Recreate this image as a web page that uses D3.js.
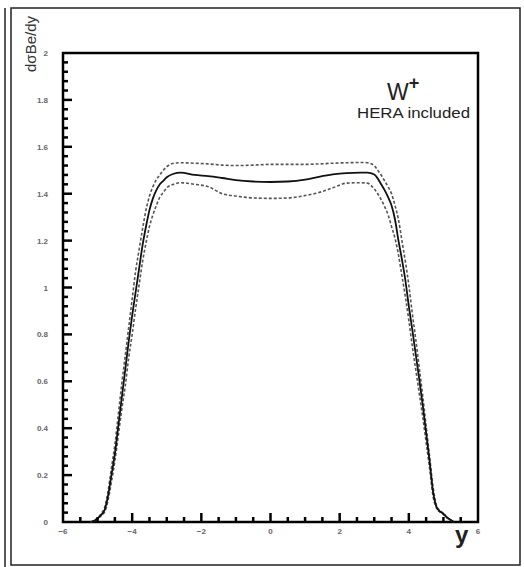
<!DOCTYPE html>
<html>
<head>
<meta charset="utf-8">
<script src="https://cdn.jsdelivr.net/npm/d3@7"></script>
<style>
  body { margin: 0; background: #fff; }
  svg { display: block; font-family: "Liberation Sans", Arial, sans-serif; }
</style>
</head>
<body>
<div id="chart"></div>
<script>
// rapidity grid
const yGrid = [-5.2, -5.1, -5.0, -4.9, -4.8, -4.7, -4.6, -4.5, -4.4, -4.3, -4.2, -4.1, -4.0, -3.9, -3.8, -3.7, -3.6, -3.5, -3.4, -3.3, -3.2, -3.1, -3.0, -2.8, -2.6, -2.2, -1.8, -1.4, -1.0, -0.5, 0,
  0.5, 1.0, 1.4, 1.8, 2.2, 2.6, 2.8, 3.0, 3.1, 3.2, 3.3, 3.4, 3.5, 3.6, 3.7, 3.8, 3.9, 4.0, 4.1, 4.2, 4.3, 4.4, 4.5, 4.6, 4.7, 4.8, 4.9, 5.0, 5.1, 5.2, 5.3];

// central prediction
const central = [0, 0.005, 0.015, 0.03, 0.05, 0.11, 0.20, 0.29, 0.41, 0.53, 0.65, 0.77, 0.88, 0.98, 1.08, 1.18, 1.26, 1.33, 1.38, 1.415, 1.44, 1.455, 1.47, 1.485, 1.49, 1.48, 1.475, 1.467, 1.458, 1.452, 1.45,
  1.452, 1.46, 1.472, 1.482, 1.488, 1.49, 1.49, 1.482, 1.465, 1.44, 1.415, 1.385, 1.35, 1.29, 1.20, 1.12, 1.03, 0.92, 0.82, 0.715, 0.61, 0.50, 0.38, 0.26, 0.13, 0.065, 0.045, 0.035, 0.02, 0.01, 0];

// upper error band
const upper = [0, 0.006, 0.017, 0.035, 0.06, 0.13, 0.23, 0.33, 0.46, 0.59, 0.71, 0.83, 0.95, 1.07, 1.16, 1.25, 1.33, 1.39, 1.43, 1.46, 1.48, 1.50, 1.515, 1.53, 1.532, 1.53, 1.527, 1.522, 1.52, 1.522, 1.525,
  1.525, 1.525, 1.527, 1.53, 1.532, 1.533, 1.532, 1.52, 1.50, 1.48, 1.455, 1.43, 1.40, 1.35, 1.29, 1.20, 1.11, 1.01, 0.89, 0.78, 0.66, 0.54, 0.41, 0.28, 0.15, 0.07, 0.048, 0.037, 0.021, 0.01, 0];

// lower error band
const lower = [0, 0.004, 0.013, 0.026, 0.042, 0.09, 0.17, 0.26, 0.37, 0.48, 0.58, 0.70, 0.80, 0.91, 1.01, 1.11, 1.19, 1.26, 1.31, 1.35, 1.385, 1.405, 1.425, 1.44, 1.447, 1.44, 1.43, 1.40, 1.39, 1.382, 1.38,
  1.382, 1.392, 1.405, 1.425, 1.445, 1.447, 1.445, 1.42, 1.40, 1.375, 1.345, 1.31, 1.26, 1.21, 1.14, 1.05, 0.96, 0.86, 0.75, 0.65, 0.55, 0.45, 0.34, 0.23, 0.11, 0.06, 0.042, 0.032, 0.018, 0.009, 0];

const xTickLabels = [-6, -4, -2, 0, 2, 4, 6];
const yTickLabels = [0, 0.2, 0.4, 0.6, 0.8, 1, 1.2, 1.4, 1.6, 1.8, 2];

const W = 524, H = 567;
const margin = { top: 53, right: 46, bottom: 45, left: 63 };

const svg = d3.select('#chart').append('svg')
  .attr('width', W)
  .attr('height', H);

// outer frame (double line on the left)
svg.append('line').attr('x1', 5).attr('x2', 5).attr('y1', 8).attr('y2', 567)
  .attr('stroke', '#222').attr('stroke-width', 1.5);
svg.append('rect').attr('x', 11).attr('y', 8).attr('width', 509).attr('height', 557)
  .attr('fill', 'none').attr('stroke', '#222').attr('stroke-width', 1.5);

const x = d3.scaleLinear().domain([-6, 6]).range([margin.left, W - margin.right]);
const y = d3.scaleLinear().domain([0, 2]).range([H - margin.bottom, margin.top]);

const g = svg.append('g');

// plot box
g.append('rect')
  .attr('x', x(-6)).attr('y', y(2))
  .attr('width', x(6) - x(-6)).attr('height', y(0) - y(2))
  .attr('fill', 'none').attr('stroke', '#000').attr('stroke-width', 2.5);

// curves
const line = vals => d3.line()
  .x((d, i) => x(yGrid[i]))
  .y(d => y(d))
  .curve(d3.curveMonotoneX)(vals);

g.append('path').attr('d', line(upper))
  .attr('fill', 'none').attr('stroke', '#555').attr('stroke-width', 1.6).attr('stroke-dasharray', '3,2');
g.append('path').attr('d', line(lower))
  .attr('fill', 'none').attr('stroke', '#555').attr('stroke-width', 1.6).attr('stroke-dasharray', '3,2');
g.append('path').attr('d', line(central))
  .attr('fill', 'none').attr('stroke', '#111').attr('stroke-width', 1.8);

const isMajorX = d => Math.abs(d % 2) < 1e-6;
const isMajorY = d => Math.abs(Math.round(d / 0.2) * 0.2 - d) < 1e-6;

// ticks pointing into the frame: minor every 0.5 / 0.04, longer at labelled values
const xMinor = d3.range(-5.5, 5.51, 0.5);
svg.append('g').selectAll('line').data(xMinor).join('line')
  .attr('x1', d => x(d)).attr('x2', d => x(d))
  .attr('y1', y(0)).attr('y2', d => y(0) - (isMajorX(d) ? 9 : 5))
  .attr('stroke', '#000').attr('stroke-width', 2.5);

const yMinor = d3.range(0.04, 1.97, 0.04);
svg.append('g').selectAll('line').data(yMinor).join('line')
  .attr('x1', x(-6)).attr('x2', d => x(-6) + (isMajorY(d) ? 9 : 5))
  .attr('y1', d => y(d)).attr('y2', d => y(d))
  .attr('stroke', '#000').attr('stroke-width', 2.5);

// tick labels
svg.selectAll('.xl').data(xTickLabels).enter().append('text')
  .attr('class', 'xl')
  .attr('x', d => x(d))
  .attr('y', y(0) + 12)
  .attr('text-anchor', 'middle')
  .attr('font-size', 8).attr('font-weight', 'bold').attr('fill', '#666')
  .text(d => d < 0 ? '\u2212' + Math.abs(d) : d);

svg.selectAll('.yl').data(yTickLabels).enter().append('text')
  .attr('class', 'yl')
  .attr('x', 48)
  .attr('y', d => y(d) + 3)
  .attr('text-anchor', 'end')
  .attr('font-size', 8).attr('font-weight', 'bold').attr('fill', '#666')
  .text(d => d);

// axis titles
svg.append('text')
  .attr('transform', 'translate(36,16) rotate(-90)')
  .attr('text-anchor', 'end')
  .attr('font-size', 15).attr('fill', '#333')
  .text('d\u03c3Be/dy');

svg.append('text')
  .attr('x', 455).attr('y', 543)
  .attr('font-size', 24).attr('font-weight', 'bold').attr('fill', '#222')
  .text('y');

// annotation
const ann = svg.append('text').attr('x', 387).attr('y', 100).attr('font-size', 23).attr('fill', '#222');
ann.append('tspan').text('W');
ann.append('tspan').attr('dy', -11).attr('font-size', 18).attr('font-weight', 'bold').text('+');

svg.append('text')
  .attr('x', 357).attr('y', 118)
  .attr('font-size', 14).attr('fill', '#222')
  .attr('textLength', 113).attr('lengthAdjust', 'spacingAndGlyphs')
  .text('HERA included');
</script>
</body>
</html>
